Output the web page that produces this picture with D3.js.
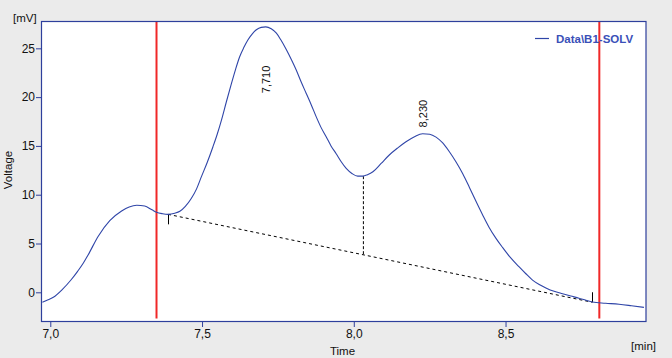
<!DOCTYPE html>
<html>
<head>
<meta charset="utf-8">
<script src="https://cdn.jsdelivr.net/npm/d3@7"></script>
<style>
html,body{margin:0;padding:0;background:#ebebeb;}
svg{display:block;}
text{font-family:"Liberation Sans",Arial,sans-serif;}
</style>
</head>
<body>
<svg id="chart" width="672" height="358"></svg>
<script>
// ---- data ----
const times = [6.974,6.993,7.010,7.040,7.068,7.090,7.109,7.125,7.158,7.196,7.235,7.260,7.285,7.311,7.335,7.350,7.370,7.388,7.410,7.427,7.445,7.465,7.482,7.498,7.517,7.536,7.550,7.564,7.580,7.597,7.610,7.624,7.638,7.651,7.665,7.679,7.695,7.710,7.728,7.745,7.760,7.778,7.795,7.810,7.826,7.843,7.860,7.876,7.892,7.909,7.925,7.942,7.958,7.975,7.995,8.013,8.030,8.045,8.063,8.090,8.117,8.145,8.172,8.200,8.227,8.250,8.271,8.293,8.315,8.337,8.359,8.381,8.403,8.425,8.446,8.468,8.490,8.515,8.545,8.567,8.589,8.611,8.633,8.660,8.688,8.715,8.742,8.765,8.786,8.830,8.874,8.915,8.956];
const voltage = [-1.02,-0.75,-0.51,0.30,1.26,2.15,3.0,3.85,5.75,7.35,8.33,8.75,8.92,8.84,8.45,8.2,8.05,7.99,8.10,8.30,8.8,9.63,10.6,11.85,13.3,14.92,16.2,17.65,19.5,21.41,22.8,24.14,25.1,25.85,26.45,26.9,27.15,27.2,27.0,26.55,25.85,24.85,23.8,22.8,21.6,20.4,19.2,18.0,16.9,15.94,15.0,14.2,13.4,12.7,12.15,11.9,11.9,12.05,12.35,13.2,14.07,14.8,15.43,15.95,16.25,16.2,15.9,15.3,14.4,13.35,12.15,10.75,9.3,7.9,6.65,5.55,4.6,3.6,2.6,1.9,1.25,0.8,0.45,0.1,-0.15,-0.38,-0.6,-0.82,-1.0,-1.12,-1.23,-1.38,-1.54];
const baselineT = [7.388, 8.786];
const baselineV = [7.99, -1.02];
const dropT = [8.030];
const dropTop = [11.9];
const dropBottom = [3.82];
const peakT = [7.710, 8.230];
const peakLabels = ["7,710", "8,230"];
const peakLabelV = [20.4, 16.9];
const markerT = [7.35, 8.809];
const xTicks = [7.0, 7.5, 8.0, 8.5];
const xTickLabels = ["7,0", "7,5", "8,0", "8,5"];
const yTicks = [0, 5, 10, 15, 20, 25];
const seriesName = "Data\\B1-SOLV";

// ---- layout ----
const svg = d3.select("#chart");
const L = 42, R = 646, T = 21, B = 321;
const x = d3.scaleLinear().domain([6.9727, 8.9628]).range([L, R]);
const y = d3.scaleLinear().domain([-2.94, 27.8]).range([B, T]);
const axisColor = "#2e3f9c";
const lineColor = "#2f45a8";

svg.append("rect").attr("x", L).attr("y", T).attr("width", R - L).attr("height", B - T).attr("fill", "#fff");

// marker lines (red)
svg.selectAll(".marker").data(markerT).enter().append("line")
  .attr("x1", d => x(d)).attr("x2", d => x(d))
  .attr("y1", T).attr("y2", B - 2.5)
  .attr("stroke", "#f02828").attr("stroke-width", 2);

// baseline (dashed)
svg.append("line")
  .attr("x1", x(baselineT[0])).attr("y1", y(baselineV[0]))
  .attr("x2", x(baselineT[1])).attr("y2", y(baselineV[1]))
  .attr("stroke", "#000").attr("stroke-width", 1).attr("stroke-dasharray", "3,3");

// drop line
svg.selectAll(".drop").data(dropT).enter().append("line")
  .attr("x1", d => x(d) + 0.5).attr("x2", d => x(d) + 0.5)
  .attr("y1", (d, i) => y(dropTop[i])).attr("y2", (d, i) => y(dropBottom[i]))
  .attr("stroke", "#000").attr("stroke-width", 1).attr("stroke-dasharray", "3,2");

// peak start/end ticks
svg.append("line")
  .attr("x1", Math.round(x(baselineT[0])) + 0.5).attr("x2", Math.round(x(baselineT[0])) + 0.5)
  .attr("y1", y(baselineV[0])).attr("y2", y(baselineV[0]) + 10)
  .attr("stroke", "#000").attr("stroke-width", 1);
svg.append("line")
  .attr("x1", Math.round(x(baselineT[1])) + 0.5).attr("x2", Math.round(x(baselineT[1])) + 0.5)
  .attr("y1", y(baselineV[1])).attr("y2", y(baselineV[1]) - 10)
  .attr("stroke", "#000").attr("stroke-width", 1);

// signal
const pts = times.map((t, i) => [t, voltage[i]]);
svg.append("path").datum(pts)
  .attr("d", d3.line().x(d => x(d[0])).y(d => y(d[1])).curve(d3.curveMonotoneX))
  .attr("fill", "none").attr("stroke", lineColor).attr("stroke-width", 1.1);

// peak labels
svg.selectAll(".plabel").data(peakT).enter().append("text")
  .attr("transform", (d, i) => `translate(${x(d)},${y(peakLabelV[i])}) rotate(-90)`)
  .attr("dy", "0.35em")
  .attr("text-anchor", "start")
  .attr("font-size", 11)
  .attr("fill", "#111")
  .text((d, i) => peakLabels[i]);

// axes
const xAxis = d3.axisBottom(x).tickValues(xTicks).tickSize(6).tickPadding(2)
  .tickFormat((d, i) => xTickLabels[i]);
const gx = svg.append("g").attr("transform", `translate(0,${B})`).call(xAxis);
const yAxis = d3.axisLeft(y).tickValues(yTicks).tickSize(6).tickPadding(1);
const gy = svg.append("g").attr("transform", `translate(${L},0)`).call(yAxis);
[gx, gy].forEach(g => {
  g.select(".domain").remove();
  g.selectAll(".tick line").attr("stroke", axisColor);
  g.selectAll(".tick text").attr("fill", "#111").attr("font-size", 12)
    .attr("font-family", "'Liberation Sans',Arial,sans-serif");
});

// frame
svg.append("rect").attr("x", L - 0.5).attr("y", T + 0.5).attr("width", R - L + 0.5).attr("height", B - T)
  .attr("fill", "none").attr("stroke", axisColor).attr("stroke-width", 1.2);

// axis titles
svg.append("text").attr("x", 13).attr("y", 22).attr("font-size", 11.5).attr("fill", "#111").text("[mV]");
svg.append("text").attr("transform", "translate(12,170) rotate(-90)").attr("text-anchor", "middle")
  .attr("font-size", 11.5).attr("fill", "#111").text("Voltage");
svg.append("text").attr("x", 342.5).attr("y", 355).attr("text-anchor", "middle")
  .attr("font-size", 11.5).attr("fill", "#111").text("Time");
svg.append("text").attr("x", 656).attr("y", 350).attr("text-anchor", "end")
  .attr("font-size", 11.5).attr("fill", "#111").text("[min]");

// legend
svg.append("line").attr("x1", 535).attr("x2", 549).attr("y1", 38.5).attr("y2", 38.5)
  .attr("stroke", lineColor).attr("stroke-width", 1.2);
svg.append("text").attr("x", 556).attr("y", 43).attr("font-size", 11.5).attr("font-weight", "bold")
  .attr("fill", "#3a50b8").text(seriesName);
</script>
</body>
</html>
